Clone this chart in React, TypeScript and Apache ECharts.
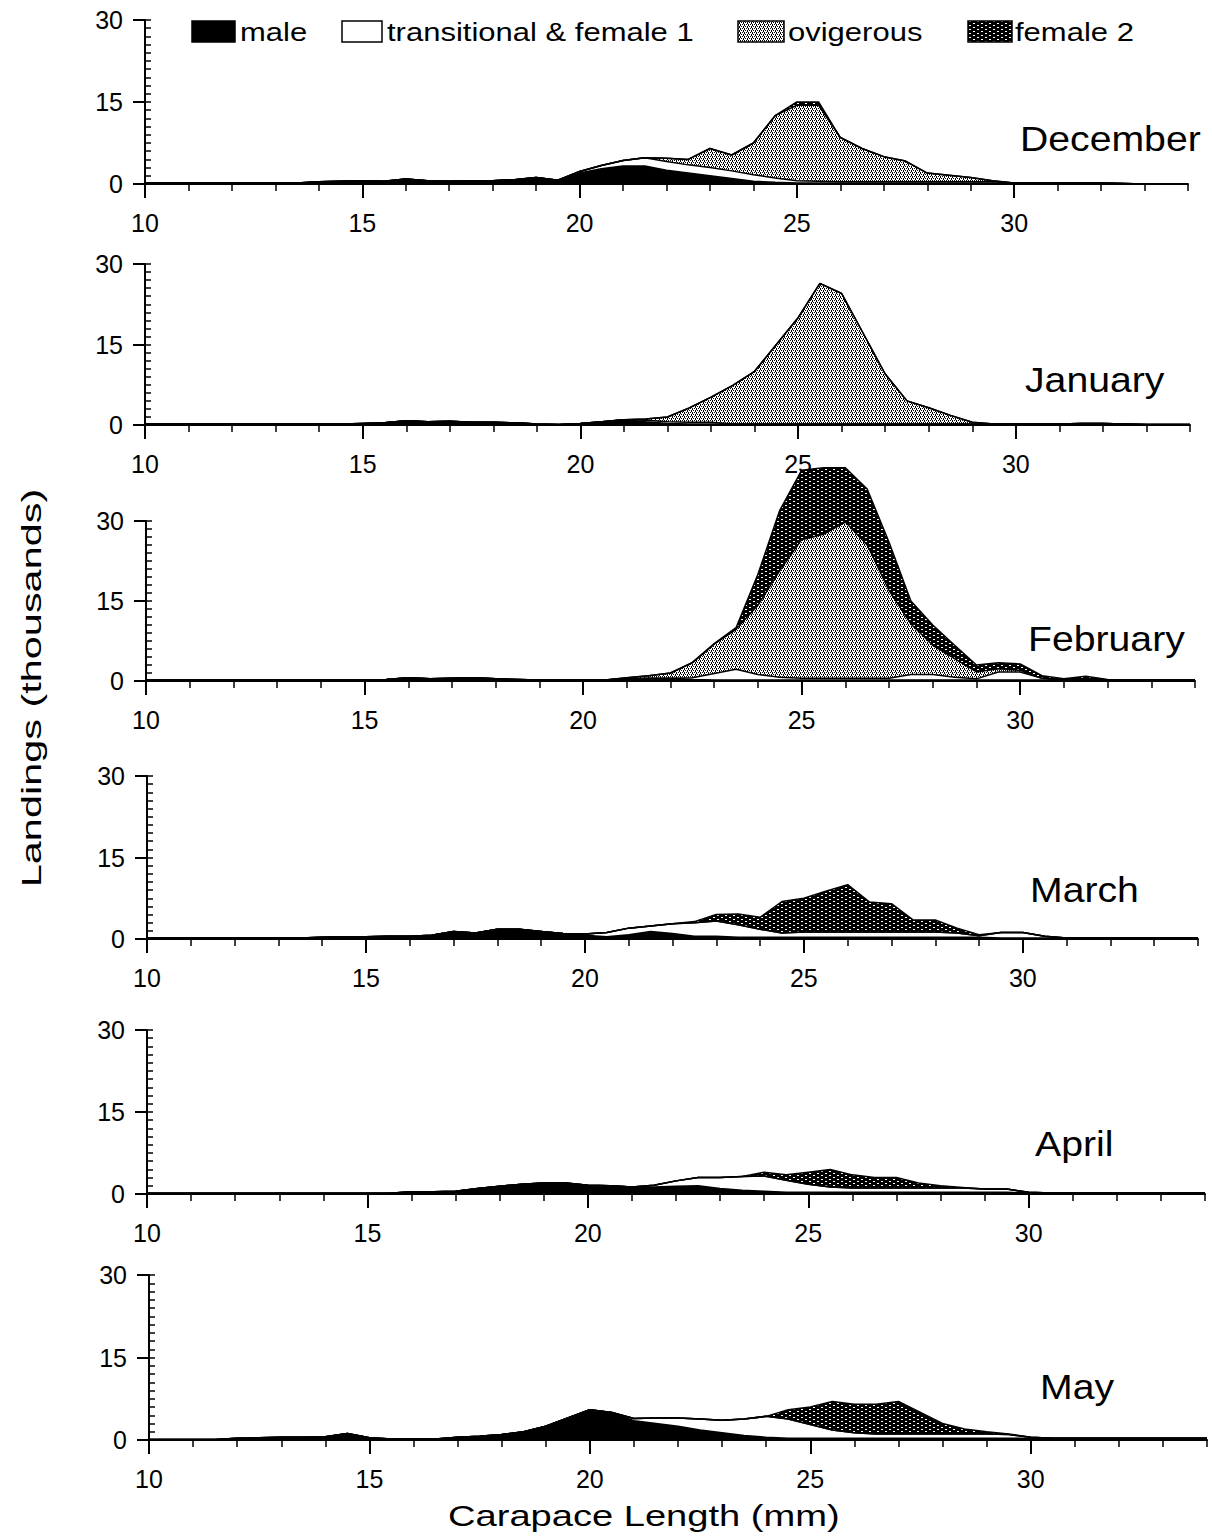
import React, { useEffect, useRef } from 'react';
import * as echarts from 'echarts';

// Carapace length classes (mm)
const lengths = [
  10, 10.5, 11, 11.5, 12, 12.5, 13, 13.5, 14, 14.5,
  15, 15.5, 16, 16.5, 17, 17.5, 18, 18.5, 19, 19.5,
  20, 20.5, 21, 21.5, 22, 22.5, 23, 23.5, 24, 24.5,
  25, 25.5, 26, 26.5, 27, 27.5, 28, 28.5, 29, 29.5,
  30, 30.5, 31, 31.5, 32, 32.5, 33, 33.5, 34,
];
const xTicks = [10, 15, 20, 25, 30];
const months = ['December', 'January', 'February', 'March', 'April', 'May'];
const categories = ['male', 'transitional & female 1', 'ovigerous', 'female 2'];

// Landings (thousands) per class
const decMale = [
  0.2, 0.2, 0.2, 0.2, 0.2, 0.2, 0.2, 0.2, 0.4, 0.5,
  0.6, 0.5, 0.9, 0.6, 0.5, 0.6, 0.6, 0.8, 1.2, 0.7,
  2.0, 2.8, 3.3, 3.3, 2.5, 2.0, 1.5, 1.0, 0.5, 0.3,
  0.2, 0.2, 0.2, 0.2, 0.2, 0.2, 0.2, 0.2, 0.2, 0.2,
  0.2, 0.2, 0.2, 0.2, 0.2, 0.1, 0, 0, 0,
];
const decTrans = [
  0, 0, 0, 0, 0, 0, 0, 0, 0, 0,
  0, 0, 0, 0, 0, 0, 0, 0, 0, 0,
  0.3, 0.6, 1.0, 1.5, 1.6, 1.5, 1.5, 1.4, 1.2, 0.8,
  0.4, 0.3, 0.2, 0.2, 0.2, 0.2, 0.2, 0.2, 0.2, 0.2,
  0, 0, 0, 0, 0, 0, 0, 0, 0,
];
const decOvig = [
  0, 0, 0, 0, 0, 0, 0, 0, 0, 0,
  0, 0, 0, 0, 0, 0, 0, 0, 0, 0,
  0, 0, 0, 0, 0.6, 1.0, 3.5, 2.9, 5.8, 11.4,
  13.8, 13.9, 8.1, 6.1, 4.6, 3.8, 1.6, 1.2, 0.8, 0.2,
  0, 0, 0, 0, 0, 0, 0, 0, 0,
];
const decF2 = [
  0, 0, 0, 0, 0, 0, 0, 0, 0, 0,
  0, 0, 0, 0, 0, 0, 0, 0, 0, 0,
  0, 0, 0, 0, 0, 0, 0, 0, 0, 0,
  0.6, 0.6, 0, 0, 0, 0, 0, 0, 0, 0,
  0, 0, 0, 0, 0, 0, 0, 0, 0,
];

const janMale = [
  0.2, 0.2, 0.2, 0.2, 0.2, 0.2, 0.2, 0.2, 0.2, 0.2,
  0.3, 0.4, 0.8, 0.6, 0.7, 0.5, 0.5, 0.4, 0.2, 0.1,
  0.3, 0.6, 1.0, 0.6, 0.3, 0.2, 0.2, 0.2, 0.2, 0.2,
  0.2, 0.2, 0.2, 0.2, 0.2, 0.2, 0.2, 0.2, 0.2, 0.2,
  0.2, 0.2, 0.2, 0.3, 0.3, 0.2, 0.1, 0.1, 0.1,
];
const janTrans = [
  0, 0, 0, 0, 0, 0, 0, 0, 0, 0,
  0, 0, 0, 0, 0, 0, 0, 0, 0, 0,
  0, 0, 0, 0.3, 0.3, 0.3, 0.3, 0, 0, 0,
  0, 0, 0, 0, 0, 0, 0, 0, 0, 0,
  0, 0, 0, 0, 0, 0, 0, 0, 0,
];
const janOvig = [
  0, 0, 0, 0, 0, 0, 0, 0, 0, 0,
  0, 0, 0, 0, 0, 0, 0, 0, 0, 0,
  0, 0, 0, 0.2, 0.9, 2.7, 4.7, 7.2, 9.8, 14.8,
  19.8, 26.2, 24.3, 16.8, 9.3, 4.3, 3.0, 1.6, 0.3, 0,
  0, 0, 0, 0, 0, 0, 0, 0, 0,
];
const janF2 = [
  0, 0, 0, 0, 0, 0, 0, 0, 0, 0,
  0, 0, 0, 0, 0, 0, 0, 0, 0, 0,
  0, 0, 0, 0, 0, 0, 0, 0, 0, 0,
  0, 0, 0, 0, 0, 0, 0, 0, 0, 0,
  0, 0, 0, 0, 0, 0, 0, 0, 0,
];

const febMale = [
  0.2, 0.2, 0.2, 0.2, 0.2, 0.2, 0.2, 0.2, 0.2, 0.2,
  0.2, 0.3, 0.6, 0.4, 0.5, 0.6, 0.4, 0.3, 0.2, 0.2,
  0.2, 0.2, 0.4, 0.5, 0.5, 0.3, 0.2, 0.2, 0.2, 0.2,
  0.2, 0.2, 0.2, 0.2, 0.2, 0.2, 0.2, 0.2, 0.2, 0.2,
  0.2, 0.2, 0.2, 0.2, 0.2, 0.2, 0.2, 0.2, 0.2,
];
const febTrans = [
  0, 0, 0, 0, 0, 0, 0, 0, 0, 0,
  0, 0, 0, 0, 0, 0, 0, 0, 0, 0,
  0, 0, 0, 0, 0, 0.3, 1.2, 2.0, 1.0, 0.5,
  0.3, 0.3, 0.3, 0.3, 0.3, 1.0, 1.0, 0.5, 0.2, 1.5,
  1.5, 0.3, 0, 0, 0, 0, 0, 0, 0,
];
const febOvig = [
  0, 0, 0, 0, 0, 0, 0, 0, 0, 0,
  0, 0, 0, 0, 0, 0, 0, 0, 0, 0,
  0, 0, 0.2, 0.5, 1.0, 2.8, 5.5, 7.5, 13.0, 20.0,
  26.0, 27.0, 29.3, 25.0, 16.5, 9.5, 5.5, 3.5, 1.3, 0.6,
  0.3, 0, 0, 0, 0, 0, 0, 0, 0,
];
const febF2 = [
  0, 0, 0, 0, 0, 0, 0, 0, 0, 0,
  0, 0, 0, 0, 0, 0, 0, 0, 0, 0,
  0, 0, 0, 0, 0, 0.1, 0.1, 0.3, 5.8, 11.3,
  13.0, 12.5, 10.2, 10.5, 9.0, 4.3, 3.8, 2.5, 1.3, 1.1,
  1.2, 0.5, 0.2, 0.7, 0.1, 0, 0, 0, 0,
];

const marMale = [
  0.2, 0.2, 0.2, 0.2, 0.2, 0.2, 0.2, 0.2, 0.3, 0.4,
  0.4, 0.5, 0.5, 0.7, 1.4, 1.1, 1.8, 1.8, 1.4, 1.0,
  0.7, 0.4, 0.8, 1.4, 1.0, 0.5, 0.5, 0.3, 0.3, 0.3,
  0.3, 0.3, 0.3, 0.3, 0.3, 0.3, 0.3, 0.3, 0.3, 0.2,
  0.2, 0.2, 0.2, 0.2, 0.2, 0.2, 0.2, 0.2, 0.2,
];
const marTrans = [
  0, 0, 0, 0, 0, 0, 0, 0, 0, 0,
  0, 0, 0, 0, 0, 0, 0, 0, 0, 0,
  0.2, 0.8, 1.2, 1.0, 1.8, 2.5, 2.8, 2.3, 1.5, 0.8,
  1.0, 1.0, 1.0, 1.0, 1.0, 1.0, 1.0, 0.8, 0.3, 1.0,
  1.0, 0.3, 0, 0, 0, 0, 0, 0, 0,
];
const marOvig = [
  0, 0, 0, 0, 0, 0, 0, 0, 0, 0,
  0, 0, 0, 0, 0, 0, 0, 0, 0, 0,
  0, 0, 0, 0, 0, 0, 0, 0, 0, 0,
  0, 0, 0, 0, 0, 0, 0, 0, 0, 0,
  0, 0, 0, 0, 0, 0, 0, 0, 0,
];
const marF2 = [
  0, 0, 0, 0, 0, 0, 0, 0, 0, 0,
  0, 0, 0, 0, 0, 0, 0, 0, 0, 0,
  0, 0, 0, 0, 0, 0.2, 1.2, 2.0, 2.2, 5.8,
  6.2, 7.5, 8.7, 5.5, 5.2, 2.2, 2.2, 0.9, 0.2, 0,
  0, 0, 0, 0, 0, 0, 0, 0, 0,
];

const aprMale = [
  0.15, 0.15, 0.15, 0.15, 0.15, 0.15, 0.15, 0.15, 0.15, 0.15,
  0.15, 0.15, 0.4, 0.4, 0.5, 1.0, 1.4, 1.8, 2.0, 2.0,
  1.6, 1.5, 1.3, 1.3, 1.4, 1.5, 1.0, 0.7, 0.5, 0.3,
  0.3, 0.3, 0.3, 0.3, 0.3, 0.3, 0.3, 0.3, 0.3, 0.3,
  0.2, 0.2, 0.2, 0.2, 0.2, 0.2, 0.2, 0.2, 0.2,
];
const aprTrans = [
  0, 0, 0, 0, 0, 0, 0, 0, 0, 0,
  0, 0, 0, 0, 0, 0, 0, 0, 0, 0,
  0, 0, 0, 0.3, 1.0, 1.5, 2.0, 2.5, 2.8, 2.2,
  1.5, 1.0, 0.8, 0.8, 0.8, 0.8, 0.8, 0.8, 0.6, 0.6,
  0.1, 0, 0, 0, 0, 0, 0, 0, 0,
];
const aprOvig = [
  0, 0, 0, 0, 0, 0, 0, 0, 0, 0,
  0, 0, 0, 0, 0, 0, 0, 0, 0, 0,
  0, 0, 0, 0, 0, 0, 0, 0, 0, 0,
  0, 0, 0, 0, 0, 0, 0, 0, 0, 0,
  0, 0, 0, 0, 0, 0, 0, 0, 0,
];
const aprF2 = [
  0, 0, 0, 0, 0, 0, 0, 0, 0, 0,
  0, 0, 0, 0, 0, 0, 0, 0, 0, 0,
  0, 0, 0, 0, 0, 0, 0, 0, 0.7, 1.0,
  2.2, 3.2, 2.4, 1.9, 1.9, 0.9, 0.4, 0.1, 0, 0,
  0, 0, 0, 0, 0, 0, 0, 0, 0,
];

const mayMale = [
  0.1, 0.1, 0.1, 0.1, 0.3, 0.4, 0.5, 0.5, 0.6, 1.2,
  0.4, 0.2, 0.2, 0.2, 0.5, 0.7, 1.0, 1.5, 2.5, 4.0,
  5.5, 5.0, 3.5, 3.0, 2.5, 1.8, 1.3, 0.8, 0.5, 0.3,
  0.3, 0.3, 0.3, 0.3, 0.3, 0.3, 0.3, 0.3, 0.3, 0.3,
  0.3, 0.3, 0.3, 0.3, 0.3, 0.3, 0.3, 0.3, 0.3,
];
const mayTrans = [
  0, 0, 0, 0, 0, 0, 0, 0, 0, 0,
  0, 0, 0, 0, 0, 0, 0, 0, 0, 0,
  0, 0, 0.4, 1.0, 1.5, 2.0, 2.3, 3.0, 3.8, 3.5,
  2.5, 1.5, 1.0, 0.8, 0.8, 0.8, 0.8, 0.8, 0.8, 0.7,
  0.2, 0, 0, 0, 0, 0, 0, 0, 0,
];
const mayOvig = [
  0, 0, 0, 0, 0, 0, 0, 0, 0, 0,
  0, 0, 0, 0, 0, 0, 0, 0, 0, 0,
  0, 0, 0, 0, 0, 0, 0, 0, 0, 0,
  0, 0, 0, 0, 0, 0, 0, 0, 0, 0,
  0, 0, 0, 0, 0, 0, 0, 0, 0,
];
const mayF2 = [
  0, 0, 0, 0, 0, 0, 0, 0, 0, 0,
  0, 0, 0, 0, 0, 0, 0, 0, 0, 0,
  0, 0, 0, 0, 0, 0, 0, 0, 0, 1.7,
  3.2, 5.2, 5.2, 5.4, 5.9, 3.9, 1.9, 0.9, 0.4, 0.1,
  0, 0, 0, 0, 0, 0, 0, 0, 0,
];

const monthData = [
  [decMale, decTrans, decOvig, decF2],
  [janMale, janTrans, janOvig, janF2],
  [febMale, febTrans, febOvig, febF2],
  [marMale, marTrans, marOvig, marF2],
  [aprMale, aprTrans, aprOvig, aprF2],
  [mayMale, mayTrans, mayOvig, mayF2],
];

// Layout (pixels)
const panelTop = [20, 264, 521, 776, 1030, 1275];
const panelBottom = [184, 425, 681, 939, 1194, 1440];
const panelLeft = [145, 145, 146, 147, 147, 149];
const panelRight = [1188, 1190, 1195, 1198, 1205, 1207];
const monthLabelX = [1020, 1025, 1028, 1030, 1035, 1040];
const monthLabelY = [139, 380, 639, 890, 1144, 1387];

const FONT = '"Liberation Sans", Arial, Helvetica, sans-serif';

function makeOvigPattern() {
  const c = document.createElement('canvas');
  c.width = 4;
  c.height = 4;
  const g = c.getContext('2d')!;
  g.fillStyle = '#fff';
  g.fillRect(0, 0, 4, 4);
  g.fillStyle = '#000';
  const dots = [[0, 0], [2, 0], [0, 1], [1, 2], [3, 2], [3, 3]];
  dots.forEach(([x, y]) => g.fillRect(x, y, 1, 1));
  return { image: c, repeat: 'repeat', imageWidth: 4, imageHeight: 4 };
}

function makeF2Pattern() {
  const c = document.createElement('canvas');
  c.width = 8;
  c.height = 4;
  const g = c.getContext('2d')!;
  g.fillStyle = '#000';
  g.fillRect(0, 0, 8, 4);
  g.fillStyle = '#fff';
  g.fillRect(1, 1, 2, 1);
  g.fillRect(5, 3, 2, 1);
  return { image: c, repeat: 'repeat', imageWidth: 8, imageHeight: 4 };
}

export default function App() {
  const ref = useRef<HTMLDivElement>(null);

  useEffect(() => {
    const el = ref.current;
    if (!el) return;
    const chart = echarts.init(el, null, { renderer: 'svg' });
    const ovigFill: any = makeOvigPattern();
    const f2Fill: any = makeF2Pattern();
    const fills: any[] = ['#000', '#fff', ovigFill, f2Fill];

    const grids: any[] = [];
    const xAxes: any[] = [];
    const yAxes: any[] = [];
    const series: any[] = [];

    monthData.forEach((layers, p) => {
      grids.push({
        left: panelLeft[p],
        top: panelTop[p],
        width: panelRight[p] - panelLeft[p],
        height: panelBottom[p] - panelTop[p],
      });
      xAxes.push({
        gridIndex: p,
        type: 'value',
        position: 'bottom',
        min: 10,
        max: 34,
        interval: 5,
        axisLine: { show: true, lineStyle: { color: '#000', width: 2 } },
        axisTick: { show: true, length: 14, customValues: xTicks, lineStyle: { color: '#000', width: 2 } },
        axisLabel: {
          customValues: xTicks,
          fontSize: 25,
          color: '#000',
          fontFamily: FONT,
          margin: 26,
          formatter: (v: number) => (v > 30 ? '' : String(v)),
        },
        splitLine: { show: false },
      });
      xAxes.push({
        gridIndex: p,
        type: 'value',
        position: 'bottom',
        min: 10,
        max: 34,
        interval: 1,
        axisLine: { show: false },
        axisTick: { show: true, length: 7, lineStyle: { color: '#000', width: 1.5 } },
        axisLabel: { show: false },
        splitLine: { show: false },
      });
      yAxes.push({
        gridIndex: p,
        type: 'value',
        position: 'left',
        min: 0,
        max: 30,
        interval: 15,
        axisLine: { show: true, lineStyle: { color: '#000', width: 2 } },
        axisTick: { show: true, length: 12, lineStyle: { color: '#000', width: 2 } },
        axisLabel: { fontSize: 25, color: '#000', fontFamily: FONT, margin: 22 },
        splitLine: { show: false },
      });
      yAxes.push({
        gridIndex: p,
        type: 'value',
        position: 'left',
        min: 0,
        max: 30,
        interval: 1.5,
        axisLine: { show: false },
        axisTick: { show: true, inside: true, length: 6, lineStyle: { color: '#000', width: 1.5 } },
        axisLabel: { show: false },
        splitLine: { show: false },
      });

      // cumulative layers (stack order: male, transitional, ovigerous, female 2)
      const cum: number[][] = [];
      layers.forEach((arr, k) => {
        cum.push(arr.map((v, i) => v + (k > 0 ? cum[k - 1][i] : 0)));
      });
      for (let k = 3; k >= 0; k--) {
        series.push({
          name: categories[k],
          type: 'line',
          xAxisIndex: 2 * p,
          yAxisIndex: 2 * p,
          data: lengths.map((x, i) => [x, cum[k][i]]),
          showSymbol: false,
          symbol: 'none',
          clip: false,
          silent: true,
          lineStyle: { color: '#000', width: 1.5 },
          areaStyle: { color: fills[k], opacity: 1 },
          z: 2,
        });
      }
    });

    const graphic: any[] = [];
    months.forEach((m, p) => {
      graphic.push({
        type: 'text',
        x: monthLabelX[p],
        y: monthLabelY[p],
        scaleX: 1.12,
        style: {
          text: m,
          fontSize: 35,
          fontFamily: FONT,
          fill: '#000',
          textAlign: 'left',
          textVerticalAlign: 'middle',
          align: 'left',
          verticalAlign: 'middle',
        },
      });
    });

    // legend
    const legendSwatchX = [192, 342, 738, 968];
    const legendSwatchW = [43, 40, 46, 44];
    const legendTextX = [240, 387, 788, 1015];
    categories.forEach((c, k) => {
      graphic.push({
        type: 'rect',
        shape: { x: legendSwatchX[k], y: 21, width: legendSwatchW[k], height: 21 },
        style: { fill: fills[k], stroke: '#000', lineWidth: 1.5 },
      });
      graphic.push({
        type: 'text',
        x: legendTextX[k],
        y: 33,
        scaleX: 1.24,
        style: {
          text: c,
          fontSize: 25,
          fontFamily: FONT,
          fill: '#000',
          textAlign: 'left',
          textVerticalAlign: 'middle',
          align: 'left',
          verticalAlign: 'middle',
        },
      });
    });

    graphic.push({
      type: 'text',
      x: 448,
      y: 1516,
      scaleX: 1.27,
      style: {
        text: 'Carapace Length (mm)',
        fontSize: 30,
        fontFamily: FONT,
        fill: '#000',
        textAlign: 'left',
        textVerticalAlign: 'middle',
        align: 'left',
        verticalAlign: 'middle',
      },
    });
    graphic.push({
      type: 'text',
      x: 31,
      y: 688,
      rotation: Math.PI / 2,
      scaleX: 1.48,
      style: {
        text: 'Landings (thousands)',
        fontSize: 28,
        fontFamily: FONT,
        fill: '#000',
        textAlign: 'center',
        textVerticalAlign: 'middle',
        align: 'center',
        verticalAlign: 'middle',
      },
    });

    chart.setOption({
      animation: false,
      backgroundColor: '#fff',
      grid: grids,
      xAxis: xAxes,
      yAxis: yAxes,
      series,
      graphic,
    });

    return () => {
      chart.dispose();
    };
  }, []);

  return (
    <div
      ref={ref}
      style={{ position: 'absolute', left: 0, top: 0, width: 1212, height: 1538, background: '#fff' }}
    />
  );
}
